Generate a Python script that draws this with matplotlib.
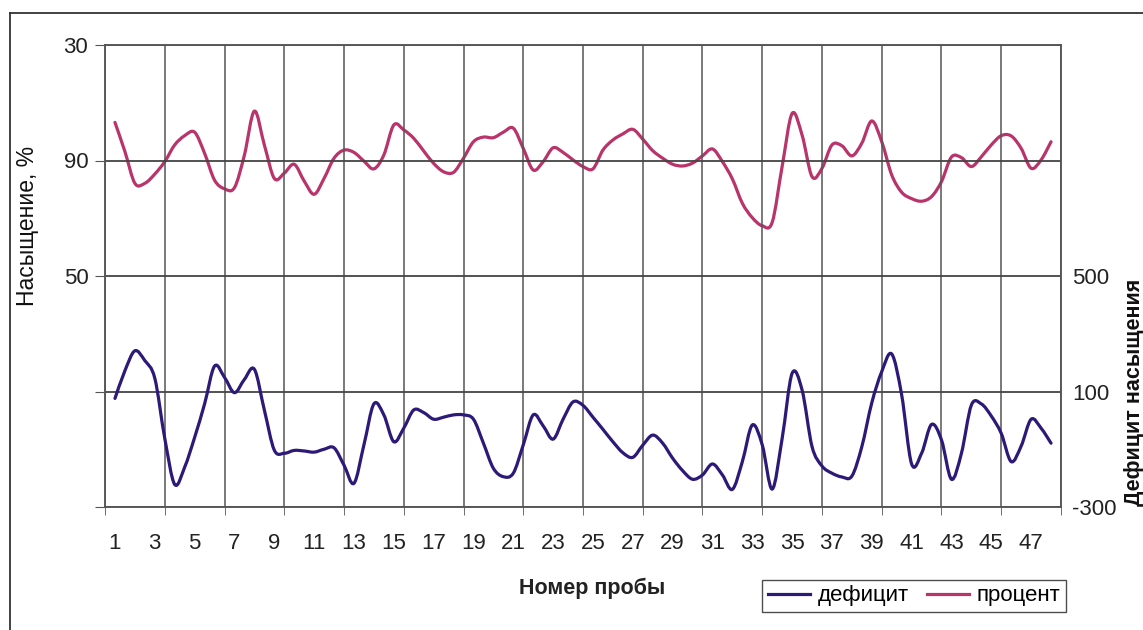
import numpy as np
import matplotlib
matplotlib.use("Agg")
import matplotlib.pyplot as plt
from matplotlib.lines import Line2D
from matplotlib.path import Path
from matplotlib.patches import PathPatch

plt.rcParams['font.family'] = ['Liberation Sans', 'DejaVu Sans']
plt.rcParams['axes.unicode_minus'] = False

# probe number (read every half step off the picture)
probe = np.arange(1, 48.5, 0.5)

# saturation, % (left axis)
percent = [103.2, 93.1, 82.1, 82.1, 85.3, 89.6, 95.4, 98.6, 99.8, 92.5,
           83.2, 80.2, 80.6, 91.9, 107.1, 95.4, 83.8, 85.6, 88.7, 82.9,
           78.3, 83.8, 90.8, 93.6, 92.8, 89.8, 87.1, 91.9, 102.3, 100.6,
           97.7, 93.3, 89.0, 86.1, 85.9, 90.8, 96.5, 98.1, 97.9, 99.8,
           101.2, 94.2, 86.7, 89.6, 94.4, 92.8, 90.2, 87.9, 87.1, 93.6,
           97.1, 99.2, 100.8, 97.4, 93.4, 90.8, 88.7, 88.1, 89.1, 91.6,
           94.0, 89.6, 83.6, 75.2, 70.2, 67.4, 68.6, 88.0, 106.3, 98.8,
           84.4, 87.3, 95.4, 95.1, 91.6, 96.0, 103.7, 96.5, 85.0, 79.0,
           76.8, 75.9, 77.5, 82.7, 91.2, 91.0, 87.9, 91.3, 95.4, 98.6,
           98.5, 94.2, 87.3, 90.2, 96.5]

# saturation deficit (right axis)
deficit = [76, 172, 241, 207, 146, -62, -222, -162, -59, 57,
           188, 149, 96, 142, 177, 36, -103, -114, -104, -106,
           -110, -100, -95, -155, -218, -85, 57, 19, -74, -27,
           36, 27, 4, 11, 19, 19, 4, -79, -166, -195,
           -183, -85, 19, -19, -65, 4, 64, 52, 11, -31,
           -74, -112, -128, -86, -51, -79, -131, -174, -204, -189,
           -151, -189, -239, -143, -16, -85, -238, -62, 163, 105,
           -91, -158, -183, -196, -193, -91, 61, 169, 230, 88,
           -151, -114, -14, -68, -204, -114, 53, 57, 15, -45,
           -143, -89, 4, -27, -79]

left_ticks = [130, 90, 50, 10, -30]
left_labels = ['30', '90', '50', '', '']
right_ticks = [500, 100, -300]
x_labels = [str(i) for i in range(1, 48, 2)]

PINK = '#B9346B'
PURPLE = '#2C1978'
GRID = '#555555'
FS = 16


def smooth_path(ax, x, y, color):
    # smoothed line like Excel's: cubic bezier pieces through the points
    x = np.asarray(x, float)
    y = np.asarray(y, float)
    # work in display space so tangents are not distorted by axis scales
    pts = ax.transData.transform(np.column_stack([x, y]))
    verts = [pts[0]]
    codes = [Path.MOVETO]
    n = len(pts)
    for i in range(n - 1):
        p0 = pts[max(i - 1, 0)]
        p1 = pts[i]
        p2 = pts[i + 1]
        p3 = pts[min(i + 2, n - 1)]
        c1 = p1 + (p2 - p0) / 6.0
        c2 = p2 - (p3 - p1) / 6.0
        verts += [c1, c2, p2]
        codes += [Path.CURVE4] * 3
    verts = ax.transData.inverted().transform(np.array(verts))
    patch = PathPatch(Path(verts, codes), facecolor='none', edgecolor=color,
                      lw=2.3, capstyle='round', joinstyle='round')
    ax.add_patch(patch)


fig = plt.figure(figsize=(11.43, 6.3), dpi=100)
ax = fig.add_axes([105 / 1143, 1 - 507 / 630, 956 / 1143, 462 / 630])
ax2 = ax.twinx()

ax.set_xlim(0.5, 48.5)
ax.set_ylim(-30, 130)
ax2.set_ylim(-300, 1300)

smooth_path(ax, probe, percent, PINK)
smooth_path(ax2, probe, deficit, PURPLE)

# category labels on odd probes, grid/ticks every 3 categories
ax.set_xticks(range(1, 48, 2))
ax.set_xticklabels(x_labels)
ax.set_xticks(np.arange(0.5, 48.6, 3), minor=True)
ax.tick_params(axis='x', which='major', length=0, pad=19, labelsize=FS, colors='#222222')
ax.tick_params(axis='x', which='minor', length=6, direction='out', color=GRID)
ax.grid(True, axis='x', which='minor', color=GRID, lw=1.1)

ax.set_yticks(left_ticks)
ax.set_yticklabels(left_labels)
ax.tick_params(axis='y', length=7, direction='out', color=GRID, pad=5,
               labelsize=FS, labelcolor='#222222')
ax.grid(True, axis='y', which='major', color='#444444', lw=1.3)

ax2.set_yticks(right_ticks)
ax2.tick_params(axis='y', length=0, pad=8, labelsize=FS, labelcolor='#222222')

for a in (ax, ax2):
    for s in a.spines.values():
        s.set_color(GRID)
        s.set_linewidth(1.1)

fig.text(28 / 1143, 1 - 226 / 630, 'Насыщение, %', rotation=90,
         ha='center', va='center', fontsize=16.5, color='#111111')
fig.text(1124 / 1143, 1 - 392 / 630, 'Дефицит насыщения', rotation=90,
         ha='left', va='center', fontsize=15.5, fontweight='bold', color='#111111')
fig.text(592 / 1143, 1 - 588 / 630, 'Номер пробы', ha='center', va='center',
         fontsize=15.5, fontweight='bold', color='#222222')

h_def = Line2D([], [], color=PURPLE, lw=2.3)
h_pct = Line2D([], [], color=PINK, lw=2.3)
leg = fig.legend(handles=[h_def, h_pct], labels=['дефицит', 'процент'], loc='center',
                 bbox_to_anchor=(914 / 1143, 1 - 596 / 630), ncol=2,
                 fontsize=FS, frameon=True, fancybox=False,
                 handlelength=1.9, handletextpad=0.35, columnspacing=0.8,
                 borderpad=0.25, borderaxespad=0)
leg.get_frame().set_edgecolor('#222222')
leg.get_frame().set_linewidth(1.0)

# outer chart frame (cut off on the right and bottom)
fig.add_artist(Line2D([10 / 1143, 1.01], [1 - 13 / 630, 1 - 13 / 630],
                      color='#333333', lw=1.3, transform=fig.transFigure))
fig.add_artist(Line2D([10 / 1143, 10 / 1143], [1 - 13 / 630, -0.01],
                      color='#333333', lw=1.3, transform=fig.transFigure))

fig.savefig('out.png', dpi=100)
